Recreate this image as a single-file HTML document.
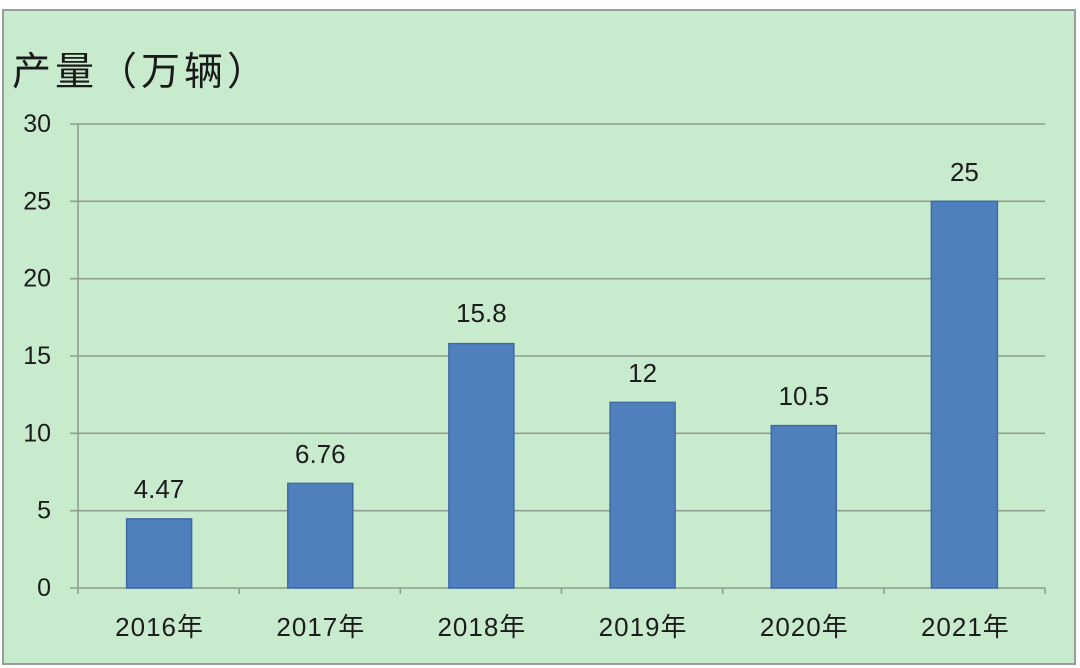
<!DOCTYPE html>
<html>
<head>
<meta charset="utf-8">
<style>
html,body{margin:0;padding:0;background:#ffffff;}
body{width:1080px;height:668px;overflow:hidden;}
svg{display:block;}
text{font-family:"Liberation Sans","Noto Sans CJK SC",sans-serif;fill:#1c1c1c;}
</style>
</head>
<body>
<svg width="1080" height="668" viewBox="0 0 1080 668" xmlns="http://www.w3.org/2000/svg">
  <rect x="0" y="0" width="1080" height="668" fill="#ffffff"/>
  <rect x="3" y="10" width="1072" height="654" fill="#c9ebcd" stroke="#9a9e9a" stroke-width="2"/>
  <!-- title -->
  <text x="12" y="69" font-size="39" letter-spacing="4" dominant-baseline="central" style="font-family:'Noto Sans CJK SC','WenQuanYi Zen Hei',sans-serif;fill:#1a1a1a;">产量（万辆）</text>
  <!-- gridlines -->
  <g stroke="#8e9e8f" stroke-width="1.6">
    <line x1="70" y1="124" x2="1045" y2="124"/>
    <line x1="70" y1="201.3" x2="1045" y2="201.3"/>
    <line x1="70" y1="278.7" x2="1045" y2="278.7"/>
    <line x1="70" y1="356" x2="1045" y2="356"/>
    <line x1="70" y1="433.3" x2="1045" y2="433.3"/>
    <line x1="70" y1="510.7" x2="1045" y2="510.7"/>
    <line x1="70" y1="588" x2="1045" y2="588"/>
    <line x1="78" y1="124" x2="78" y2="594"/>
    <line x1="239.2" y1="588" x2="239.2" y2="594"/>
    <line x1="400.3" y1="588" x2="400.3" y2="594"/>
    <line x1="561.5" y1="588" x2="561.5" y2="594"/>
    <line x1="722.7" y1="588" x2="722.7" y2="594"/>
    <line x1="883.8" y1="588" x2="883.8" y2="594"/>
    <line x1="1045" y1="588" x2="1045" y2="594"/>
  </g>
  <!-- y tick labels -->
  <g font-size="25" text-anchor="end">
    <text x="51" y="124" dominant-baseline="central">30</text>
    <text x="51" y="201.3" dominant-baseline="central">25</text>
    <text x="51" y="278.7" dominant-baseline="central">20</text>
    <text x="51" y="356" dominant-baseline="central">15</text>
    <text x="51" y="433.3" dominant-baseline="central">10</text>
    <text x="51" y="510.7" dominant-baseline="central">5</text>
    <text x="51" y="588" dominant-baseline="central">0</text>
  </g>
  <!-- bars -->
  <g fill="#4f7fbd" stroke="#3e6aa3" stroke-width="1.5">
    <rect x="126.6" y="518.9" width="65" height="69.1"/>
    <rect x="287.8" y="483.4" width="65" height="104.6"/>
    <rect x="448.9" y="343.6" width="65" height="244.4"/>
    <rect x="610.1" y="402.4" width="65" height="185.6"/>
    <rect x="771.3" y="425.6" width="65" height="162.4"/>
    <rect x="931.4" y="201.3" width="66" height="386.7"/>
  </g>
  <!-- value labels -->
  <g font-size="26" text-anchor="middle">
    <text x="159" y="489" dominant-baseline="central">4.47</text>
    <text x="320.3" y="454" dominant-baseline="central">6.76</text>
    <text x="481.4" y="313" dominant-baseline="central">15.8</text>
    <text x="642.6" y="373" dominant-baseline="central">12</text>
    <text x="803.8" y="396" dominant-baseline="central">10.5</text>
    <text x="964.4" y="172" dominant-baseline="central">25</text>
  </g>
  <!-- x labels -->
  <g font-size="26" letter-spacing="1" text-anchor="middle">
    <text x="159.6" y="627" dominant-baseline="central">2016年</text>
    <text x="320.8" y="627" dominant-baseline="central">2017年</text>
    <text x="481.9" y="627" dominant-baseline="central">2018年</text>
    <text x="643.1" y="627" dominant-baseline="central">2019年</text>
    <text x="804.3" y="627" dominant-baseline="central">2020年</text>
    <text x="965.4" y="627" dominant-baseline="central">2021年</text>
  </g>
</svg>
</body>
</html>
